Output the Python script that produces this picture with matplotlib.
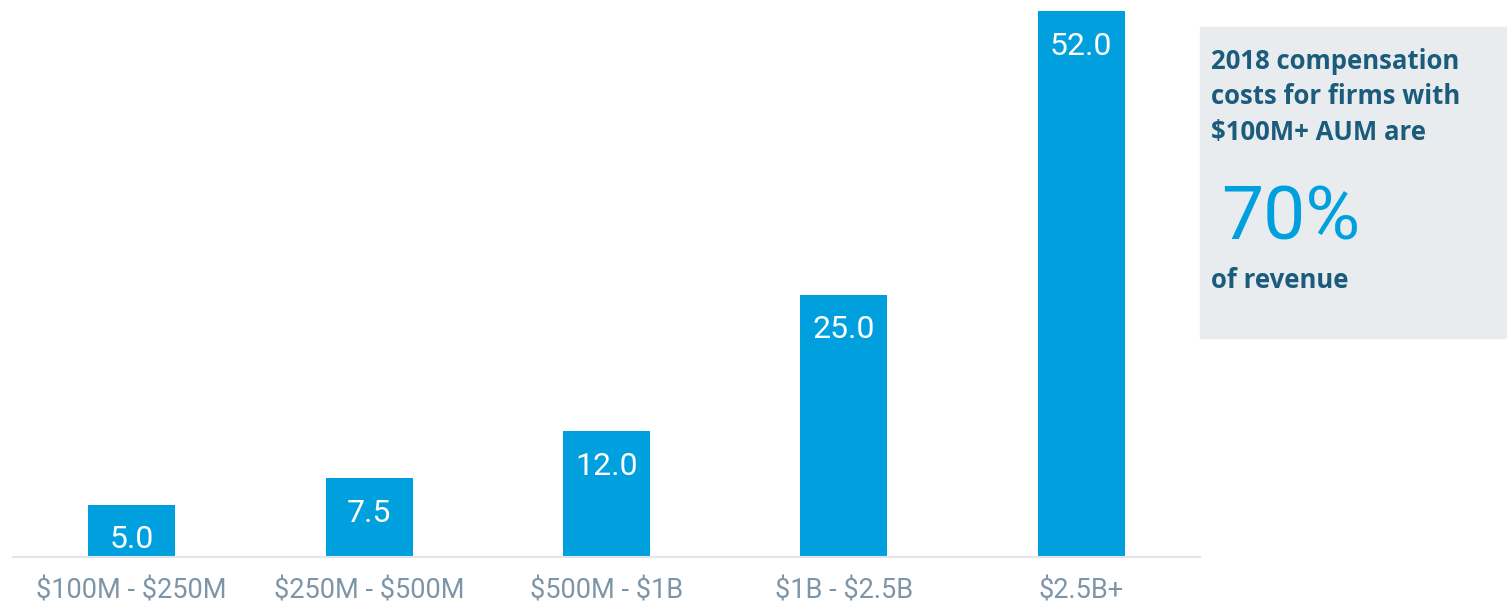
import matplotlib.pyplot as plt
from matplotlib.patches import Rectangle

plt.rcParams['text.parse_math'] = False

# Data
categories = ['$100M - $250M', '$250M - $500M', '$500M - $1B', '$1B - $2.5B', '$2.5B+']
values = [5.0, 7.5, 12.0, 25.0, 52.0]

bar_color = '#00a0df'
tick_color = '#7d95a8'
title_color = '#1b5b7c'
box_color = '#e8ecef'

W, H = 1507, 606
fig = plt.figure(figsize=(W / 100, H / 100), dpi=100)

ax = fig.add_axes([13 / W, 1 - 557 / H, 1187 / W, 546 / H])
x = list(range(len(categories)))
ax.bar(x, values, width=0.366, color=bar_color, zorder=2)
ax.set_xlim(-0.5, 4.5)
ax.set_ylim(0, 52)

for xi, v in zip(x, values):
    ax.annotate(f'{v:.1f}', (xi, v), xytext=(0, -21), textcoords='offset pixels',
                ha='center', va='top', color='white', fontsize=23,
                family='Roboto')

ax.set_xticks(x)
ax.set_xticklabels(categories, fontsize=19.5, color=tick_color, family='Roboto')
ax.tick_params(axis='x', length=0, pad=15)
ax.set_yticks([])
for s in ['top', 'right', 'left']:
    ax.spines[s].set_visible(False)
ax.spines['bottom'].set_color('#e1e6ea')
ax.spines['bottom'].set_linewidth(1.5)

# side callout box
fig.patches.append(Rectangle((1200 / W, 1 - 338 / H), 307 / W, 311 / H,
                             transform=fig.transFigure, color=box_color, zorder=0))
fig.text(1211 / W, 1 - 97 / H, '2018 compensation\ncosts for firms with\n$100M+ AUM are',
         ha='left', va='center', fontsize=18.5, fontweight='bold', color=title_color,
         family='Open Sans', linespacing=1.42)
fig.text(1221 / W, 1 - 219 / H, '70%', ha='left', va='center', fontsize=54,
         color=bar_color, family='Roboto')
fig.text(1211 / W, 1 - 280 / H, 'of revenue', ha='left', va='center', fontsize=18.5,
         fontweight='bold', color=title_color, family='Open Sans')

fig.savefig('out.png', dpi=100)
